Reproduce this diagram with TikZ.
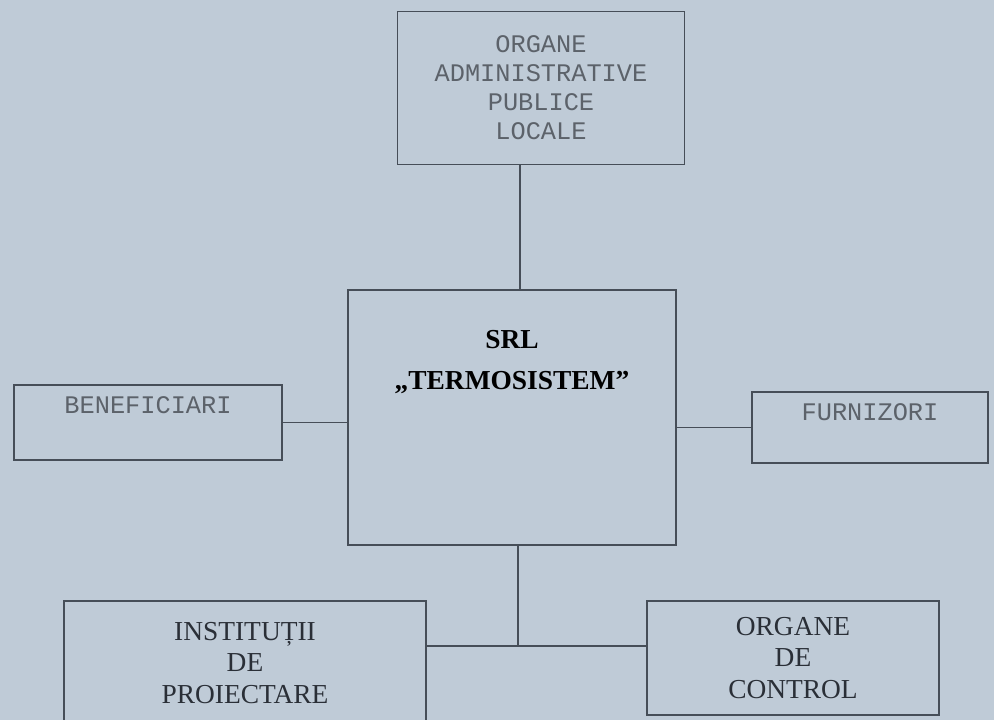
\documentclass[tikz,border=0pt]{standalone}
\usepackage{fontspec}
\setmainfont{Liberation Serif}
\newfontfamily\typewriter{Liberation Mono}
\usetikzlibrary{positioning}
\definecolor{paperblue}{RGB}{191,203,215}
\definecolor{inkgray}{RGB}{70,78,88}
\definecolor{typegray}{RGB}{92,98,106}
\definecolor{printgray}{RGB}{42,47,55}

\begin{document}
\begin{tikzpicture}[x=0.025cm, y=-0.025cm,
    box/.style={draw=inkgray, line width=1.2pt, rectangle, inner sep=0pt},
    monoBox/.style={box, align=center, text=typegray, font=\typewriter\fontsize{18}{20.6}\selectfont},
    serifBox/.style={box, align=center, text=printgray, font=\fontsize{19.5}{22.5}\selectfont},
    link/.style={draw=inkgray, line width=1.2pt}]%
    \def\px{0.025cm}
    % paper and page frame
    \fill [paperblue] (0,0) rectangle (994,720);
    \useasboundingbox (0,0) rectangle (994,720);

    \node (orgAdm) [monoBox, minimum width=287*\px, minimum height=153*\px] at (541,88)
        {ORGANE\\ADMINISTRATIVE\\PUBLICE\\LOCALE};
    \node (srl) [serifBox, text=black, font=\bfseries\fontsize{19.5}{29}\selectfont,
        text width=328*\px, text height=59*\px, text depth=196*\px] at (512,417.5)
        {SRL\\„TERMOSISTEM”};
    \node (benef) [monoBox, minimum width=268*\px, text height=29*\px, text depth=46*\px] at (148,422.5)
        {BENEFICIARI};
    \node (furn) [monoBox, minimum width=236*\px, text height=29*\px, text depth=42*\px] at (870,427.5)
        {FURNIZORI};
    \node (inst) [serifBox, minimum width=362*\px, minimum height=124*\px] at (245,663)
        {INSTITUȚII\\DE\\PROIECTARE};
    \node (ctrl) [serifBox, minimum width=292*\px, minimum height=114*\px] at (793,658)
        {ORGANE\\DE\\CONTROL};

    % connectors
    \draw [link] ([xshift=8*\px]srl.north) -- ([xshift=8*\px]srl.north |- orgAdm.south);
    \draw [link] (benef.east) -- (benef.east -| srl.west);
    \draw [link] (srl.east |- furn.west) -- (furn.west);
    \coordinate (jn) at ([xshift=6*\px]srl.south |- 0,646);
    \draw [link] ([xshift=6*\px]srl.south) -- (jn);
    \draw [link] (inst.east |- jn) -- (ctrl.west |- jn);
\end{tikzpicture}
\end{document}
